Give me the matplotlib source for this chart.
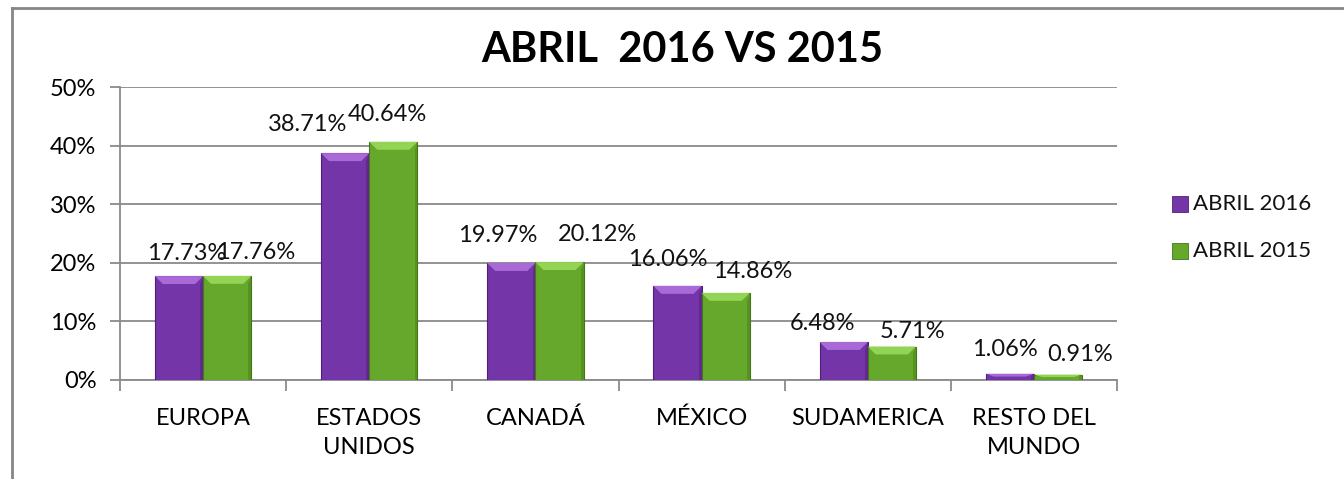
import matplotlib
matplotlib.use("Agg")
import matplotlib.pyplot as plt
from matplotlib.lines import Line2D
from matplotlib.patches import Polygon, Rectangle
import numpy as np

plt.rcParams["font.family"] = ["Lato", "DejaVu Sans"]

categories = ["EUROPA", "ESTADOS\nUNIDOS", "CANADÁ", "MÉXICO", "SUDAMERICA", "RESTO DEL\nMUNDO"]
series_names = ["ABRIL 2016", "ABRIL 2015"]
abril_2016 = [17.73, 38.71, 19.97, 16.06, 6.48, 1.06]
abril_2015 = [17.76, 40.64, 20.12, 14.86, 5.71, 0.91]
y_ticks = [0, 10, 20, 30, 40, 50]
title = "ABRIL  2016 VS 2015"

# label nudges in pixels (dx, dy above bar top), as placed in the original
nudge_2016 = [(8, 23), (-38, 29), (-14, 27), (-10, 26), (-21, 19), (-5, 24)]
nudge_2015 = [(28, 23), (-6, 27), (38, 28), (27, 21), (21, 15), (22, 20)]

PURPLE = "#7435a8"
PURPLE_TOP = "#a96ad8"
PURPLE_SIDE = "#62298f"
PURPLE_EDGE = "#4e1f78"
GREEN = "#66a82c"
GREEN_TOP = "#93d455"
GREEN_SIDE = "#56931f"
GREEN_EDGE = "#44751b"
GRID = "#8a8a8a"

W, H = 1344, 479
fig = plt.figure(figsize=(W / 100, H / 100), dpi=100)
ax = fig.add_axes([120 / W, 1 - 380 / H, (1117 - 120) / W, (380 - 87) / H])

x = np.arange(len(categories))
bw = 0.29


def bevel_bars(xs, vals, color, top, side, edge):
    bars = ax.bar(xs, vals, bw, color=color, edgecolor=edge, linewidth=0.8, zorder=3)
    for b in bars:
        x0, w, h = b.get_x(), b.get_width(), b.get_height()
        bh = min(1.35, h * 0.45)
        ins = min(0.048, w * 0.3)
        # darker right bevel, lighter top bevel
        ax.add_patch(Polygon([(x0 + w, h), (x0 + w, 0), (x0 + w - ins * 0.35, 0), (x0 + w - ins * 0.35, h - bh)],
                             closed=True, facecolor=side, edgecolor="none", zorder=4))
        ax.add_patch(Polygon([(x0, h), (x0 + w, h), (x0 + w - ins, h - bh), (x0 + ins, h - bh)],
                             closed=True, facecolor=top, edgecolor="none", zorder=4))
    return bars


b16 = bevel_bars(x - bw / 2, abril_2016, PURPLE, PURPLE_TOP, PURPLE_SIDE, PURPLE_EDGE)
b15 = bevel_bars(x + bw / 2, abril_2015, GREEN, GREEN_TOP, GREEN_SIDE, GREEN_EDGE)

for bars, vals, nudges in ((b16, abril_2016, nudge_2016), (b15, abril_2015, nudge_2015)):
    for b, v, (dx, dy) in zip(bars, vals, nudges):
        ax.annotate(f"{v:.2f}%", (b.get_x() + b.get_width() / 2, v),
                    xytext=(dx * 0.72, dy * 0.72), textcoords="offset points",
                    ha="center", va="center", fontsize=17, color="#111111", zorder=5)

ax.set_xlim(-0.5, len(categories) - 0.5)
ax.set_ylim(0, 50)
ax.set_yticks(y_ticks)
ax.set_yticklabels([f"{t}%" for t in y_ticks])
ax.yaxis.grid(True, color=GRID, linewidth=1.3, zorder=0)
ax.set_axisbelow(True)

ax.set_xticks(x)
ax.set_xticklabels(categories, linespacing=1.5)
ax.set_xticks(np.arange(len(categories) + 1) - 0.5, minor=True)
ax.tick_params(axis="x", which="major", length=0, pad=20, labelsize=17)
ax.tick_params(axis="x", which="minor", length=8, width=1.3, color=GRID)
ax.tick_params(axis="y", length=7, width=1.3, color=GRID, pad=10, labelsize=17)

for side in ("top", "right"):
    ax.spines[side].set_visible(False)
for side in ("left", "bottom"):
    ax.spines[side].set_color(GRID)
    ax.spines[side].set_linewidth(1.3)

fig.text(682 / W, 1 - 50 / H, title, ha="center", va="center",
         fontsize=30, fontweight="bold", color="#000000")

# legend
for i, (name, c, edge) in enumerate(zip(series_names, [PURPLE, GREEN], [PURPLE_EDGE, GREEN_EDGE])):
    yc = 1 - (204 + 47 * i) / H
    fig.patches.append(Rectangle((1172 / W, yc - 8 / H), 16 / W, 16 / H, transform=fig.transFigure,
                                 facecolor=c, edgecolor=edge, linewidth=0.6))
    fig.text(1193 / W, yc, name, ha="left", va="center", fontsize=16, color="#111111")

# chart frame: only left and top edges fall inside the picture
fig.lines.append(Line2D([12 / W, 12 / W], [0, 1 - 8 / H], transform=fig.transFigure,
                        color="#868686", linewidth=2))
fig.lines.append(Line2D([12 / W, 1], [1 - 8 / H, 1 - 8 / H], transform=fig.transFigure,
                        color="#868686", linewidth=2))

fig.savefig("out.png", dpi=100)
